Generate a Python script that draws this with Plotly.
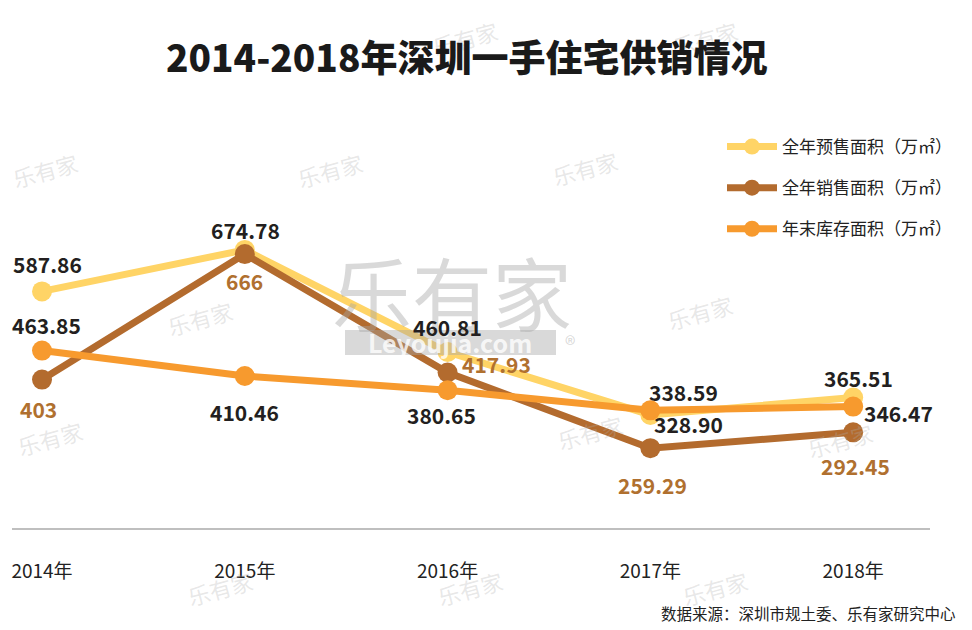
import plotly.graph_objects as go

years = ["2014年", "2015年", "2016年", "2017年", "2018年"]
presale = [587.86, 674.78, 460.81, 328.90, 365.51]
sales = [403, 666, 417.93, 259.29, 292.45]
inventory = [463.85, 410.46, 380.65, 338.59, 346.47]
presale_labels = ["587.86", "674.78", "460.81", "328.90", "365.51"]
sales_labels = ["403", "666", "417.93", "259.29", "292.45"]
inventory_labels = ["463.85", "410.46", "380.65", "338.59", "346.47"]

names = ["全年预售面积（万㎡）", "全年销售面积（万㎡）", "年末库存面积（万㎡）"]
colors = ["#FFD466", "#B36B2E", "#F79A2E"]

FONT = "Noto Sans CJK SC, Noto Sans, sans-serif"
xs = list(range(len(years)))

# plot area in pixels
L, R, T, B = 12, 930, 120, 528


def px(x):
    return (x - L) / (R - L)


def py(y):
    return (B - y) / (B - T)


fig = go.Figure()
for i, (nm, vals, col) in enumerate(zip(names, [presale, sales, inventory], colors)):
    fig.add_trace(go.Scatter(
        x=xs, y=vals, name=nm, mode="lines+markers",
        line=dict(color=col, width=7),
        marker=dict(color=col, size=20),
        legendgroup=f"g{i}",
        hoverinfo="skip",
    ))

label_dark = "#231F20"
label_brown = "#B0702F"
# offsets (dx, dy) in pixels, dy positive = up
presale_off = [(5, 27), (1, 20), (0, 25), (38, -9), (5, 19)]
sales_off = [(-4, -29), (0, -27), (49, 8), (2, -37), (2, -34)]
inventory_off = [(4, 26), (0, -36), (-6, -25), (33, 18), (45, -6)]

ann = []
shapes = []


def pann(x, y, text, font, **kw):
    d = dict(x=px(x), y=py(y), xref="paper", yref="paper", text=text,
             showarrow=False, xanchor="center", yanchor="middle", font=font)
    d.update(kw)
    return d


# watermark (central)
shapes.append(dict(type="rect", xref="paper", yref="paper", layer="above",
                   x0=px(345), x1=px(556), y0=py(355), y1=py(330),
                   fillcolor="rgba(165,165,165,0.42)", line=dict(width=0)))
ann.append(pann(452, 290, "乐有家", dict(family=FONT, size=80, color="rgba(165,165,165,0.42)")))
ann.append(pann(450, 342, "<b>Leyoujia.com</b>", dict(family=FONT, size=25, color="rgba(255,255,255,0.8)")))
ann.append(pann(570, 343, "®", dict(family=FONT, size=22, color="rgba(165,165,165,0.42)")))
# small watermarks
for wx, wy in [(45, 170), (330, 170), (585, 168), (200, 318), (700, 312), (50, 438),
               (590, 432), (840, 440), (465, 38), (705, 38), (220, 588), (470, 588), (715, 588)]:
    ann.append(pann(wx, wy, "乐有家", dict(family=FONT, size=22, color="rgba(175,175,175,0.3)"),
                    textangle=-15))

for vals, labs, offs, col in [
    (presale, presale_labels, presale_off, label_dark),
    (sales, sales_labels, sales_off, label_brown),
    (inventory, inventory_labels, inventory_off, label_dark),
]:
    for x, v, t, (dx, dy) in zip(xs, vals, labs, offs):
        ann.append(dict(x=x, y=v, xref="x", yref="y", text=f"<b>{t}</b>",
                        showarrow=False, xshift=dx, yshift=dy,
                        font=dict(family=FONT, size=21, color=col)))

# title and source
ann.append(pann(466, 56, "2014-2018年深圳一手住宅供销情况",
                dict(family=FONT, size=37, color="#1A1A1A", weight=900)))
ann.append(pann(958, 613, "数据来源：深圳市规土委、乐有家研究中心",
                dict(family=FONT, size=15.5, color="#222222"), xanchor="right"))

fig.update_layout(
    width=972, height=630,
    autosize=False,
    margin=dict(l=L, r=972 - R, t=T, b=630 - B),
    paper_bgcolor="white", plot_bgcolor="white",
    showlegend=True,
    hovermode=False,
    legend=dict(x=px(722), y=py(129), xanchor="left", yanchor="top",
                font=dict(family=FONT, size=17, color="#222222"),
                bgcolor="rgba(0,0,0,0)", tracegroupgap=16, itemwidth=50),
    xaxis=dict(range=[-0.148, 4.379], tickvals=xs, ticktext=years,
               showgrid=False, zeroline=False, showline=True,
               linecolor="#BFBFBF", linewidth=2, ticks="", ticklabelstandoff=25,
               tickfont=dict(family=FONT, size=19, color="#222222"),
               fixedrange=True),
    yaxis=dict(range=[92, 947], visible=False, showgrid=False, zeroline=False, fixedrange=True),
    annotations=ann,
    shapes=shapes,
)

fig.write_html(
    "out.html",
    config={"displayModeBar": False, "responsive": False},
    post_script=("document.body.style.margin='0';"
                 "document.body.style.overflow='hidden';"
                 "document.documentElement.style.overflow='hidden';"),
)
